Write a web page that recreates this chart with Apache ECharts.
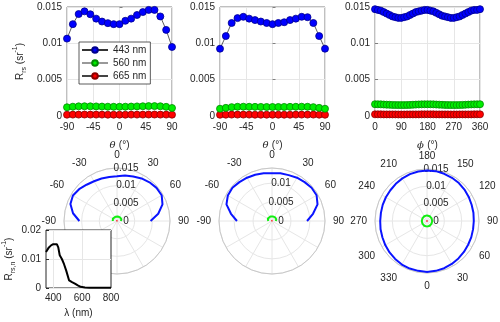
<!DOCTYPE html>
<html>
<head>
<meta charset="utf-8">
<script src="https://cdn.jsdelivr.net/npm/echarts@6/dist/echarts.min.js"></script>
<style>
  html,body{margin:0;padding:0;background:#fff}
  #chart{width:500px;height:322px}
</style>
</head>
<body>
<div id="chart"></div>
<script>
// viewing angles
var thetaDeg = [-90,-80,-70,-60,-50,-40,-30,-20,-10,0,10,20,30,40,50,60,70,80,90];
var phiDeg = [0,10,20,30,40,50,60,70,80,90,100,110,120,130,140,150,160,170,180,
              190,200,210,220,230,240,250,260,270,280,290,300,310,320,330,340,350,360];

// panel 1 (theta scan, plane 1)
var p1_443 = [0.01065,0.01264,0.01403,0.0144,0.0140,0.0134,0.0130,0.01278,0.01264,0.01264,0.0131,0.0134,0.0139,0.0143,0.0146,0.0146,0.0137,0.01185,0.0095];
var p1_560 = [0.00120,0.00128,0.00133,0.00134,0.00133,0.00132,0.00130,0.00128,0.00127,0.00127,0.00128,0.00130,0.00132,0.00134,0.00136,0.00136,0.00134,0.00126,0.00110];
var p1_665 = [0.00018,0.00019,0.00019,0.00020,0.00019,0.00019,0.00019,0.00018,0.00018,0.00018,0.00018,0.00019,0.00019,0.00019,0.00020,0.00020,0.00019,0.00019,0.00018];

// panel 2 (theta scan, plane 2)
var p2_443 = [0.00926,0.0110,0.0128,0.01347,0.01365,0.0134,0.0132,0.0130,0.0128,0.01264,0.0128,0.0129,0.0132,0.0134,0.01365,0.0136,0.0128,0.0110,0.00926];
var p2_560 = [0.00100,0.00112,0.00122,0.00127,0.00128,0.00127,0.00126,0.00125,0.00124,0.00124,0.00124,0.00125,0.00126,0.00127,0.00128,0.00127,0.00122,0.00112,0.00100];
var p2_665 = [0.00017,0.00018,0.00019,0.00019,0.00019,0.00019,0.00018,0.00018,0.00018,0.00018,0.00018,0.00018,0.00018,0.00019,0.00019,0.00019,0.00019,0.00018,0.00017];

// panel 3 (phi scan)
var p3_443 = [0.0147,0.0146,0.0145,0.0143,0.0141,0.0139,0.0137,0.0136,0.0135,0.0135,0.0136,0.0137,0.0139,0.0141,0.0143,0.0144,0.0145,0.0146,0.0146,
              0.0145,0.0144,0.0142,0.0140,0.0138,0.0137,0.0136,0.0135,0.0135,0.0136,0.0137,0.0139,0.0141,0.0143,0.0145,0.0146,0.0146,0.0147];
var p3_560 = [0.00162,0.00161,0.00160,0.00158,0.00156,0.00154,0.00152,0.00151,0.00150,0.00150,0.00150,0.00151,0.00153,0.00155,0.00157,0.00159,0.00160,0.00161,0.00161,
              0.00161,0.00160,0.00158,0.00156,0.00154,0.00152,0.00151,0.00150,0.00150,0.00150,0.00151,0.00153,0.00155,0.00157,0.00159,0.00160,0.00161,0.00162];
var p3_665 = [0.00023,0.00023,0.00023,0.00022,0.00022,0.00022,0.00022,0.00022,0.00021,0.00021,0.00021,0.00022,0.00022,0.00022,0.00022,0.00022,0.00023,0.00023,0.00023,
              0.00023,0.00023,0.00022,0.00022,0.00022,0.00022,0.00022,0.00021,0.00021,0.00021,0.00022,0.00022,0.00022,0.00022,0.00022,0.00023,0.00023,0.00023];

// inset spectrum
var wavelength = [350,370,385,400,410,425,435,445,460,475,490,510,530,550,570,590,620,650,700,750,800];
var rrsn       = [0.0124,0.0140,0.0147,0.0151,0.0153,0.0151,0.0140,0.0113,0.0100,0.0082,0.0060,0.0026,0.0020,0.0015,0.0009,0.0004,0.0002,0.0001,0.0001,0.0001,0.0001];

var bandNames = ['443 nm','560 nm','665 nm'];
var markFill  = ['#0000ff','#00ee00','#ff0000'];
var markEdge  = ['#00008c','#008a00','#8c0000'];
var joinColor = ['#333333','#999999','#444444'];
var polarLine = ['#0a14ff','#11ee11','#ff1010'];

var FONT = 'Liberation Sans, Arial, Helvetica, sans-serif';
var TXT = '#262626';
var GRIDC = '#e6e6e6';

var chart = echarts.init(document.getElementById('chart'), null, {renderer:'canvas'});

function zip(a, b){ return a.map(function(v,i){ return [v, b[i]]; }); }

// polar data is [radius, angle]
function polarData(ang, r, wrap){ return ang.map(function(a,i){ return [r[i], wrap(a)]; }); }

var richName = {
  n:{fontSize:10, color:TXT, fontFamily:FONT, lineHeight:16, verticalAlign:'middle'},
  s:{fontSize:7, color:TXT, fontFamily:FONT, lineHeight:16, verticalAlign:'bottom'},
  p:{fontSize:7, color:TXT, fontFamily:FONT, lineHeight:16, verticalAlign:'top'},
  i:{fontSize:10, color:TXT, fontFamily:'DejaVu Serif, serif', fontStyle:'italic', lineHeight:16}
};

var lefts = [67, 220, 375];
var grids = lefts.map(function(l){
  return {left:l, top:7, width:105, height:109, show:true, borderColor:'#808080', borderWidth:1, backgroundColor:'#fff'};
});
grids.push({left:45, top:230, width:66, height:58, show:true, borderColor:'#262626', borderWidth:1, backgroundColor:'#fff', z:5});

function topX(i, min, max, interval, name){
  return {
    type:'value', gridIndex:i, min:min, max:max, interval:interval,
    axisLine:{show:false},
    axisTick:{show:true, inside:true, length:3, lineStyle:{color:'#808080'}},
    axisLabel:{color:TXT, fontSize:10, fontFamily:FONT, margin:6},
    splitLine:{show:true, lineStyle:{color:GRIDC, width:1}},
    name:name, nameLocation:'middle', nameGap:21,
    nameTextStyle:{rich:richName}
  };
}
function topY(i, withName){
  var ax = {
    type:'value', gridIndex:i, min:0, max:0.015, interval:0.005,
    axisLine:{show:false},
    axisTick:{show:true, inside:true, length:3, lineStyle:{color:'#808080'}},
    axisLabel:{color:TXT, fontSize:10, fontFamily:FONT, margin:5},
    splitLine:{show:true, lineStyle:{color:GRIDC, width:1}}
  };
  if(withName){
    ax.name = '{n|R}{s|rs}{n| (sr}{p|-1}{n|)}';
    ax.nameLocation = 'middle';
    ax.nameRotate = 90;
    ax.nameGap = 39;
    ax.nameTextStyle = {rich:richName};
  }
  return ax;
}

var xAxes = [
  topX(0, -90, 90, 45, '{i|θ} {n|(°)}'),
  topX(1, -90, 90, 45, '{i|θ} {n|(°)}'),
  topX(2, 0, 360, 90, '{i|ϕ} {n|(°)}'),
  {
    type:'value', gridIndex:3, min:350, max:800, interval:50, z:6,
    axisLine:{show:false},
    axisTick:{show:false},
    axisLabel:{color:TXT, fontSize:10, fontFamily:FONT, margin:5,
      formatter:function(v){ return v % 200 === 0 ? String(v) : ''; }},
    splitLine:{show:false},
    name:'{n|λ (nm)}', nameLocation:'middle', nameGap:17,
    nameTextStyle:{rich:richName}
  }
];
var yAxes = [
  topY(0, true), topY(1, false), topY(2, false),
  {
    type:'value', gridIndex:3, min:0, max:0.02, interval:0.01, z:6,
    axisLine:{show:false},
    axisTick:{show:true, inside:true, length:3, lineStyle:{color:'#262626'}},
    axisLabel:{color:TXT, fontSize:10, fontFamily:FONT, margin:5},
    splitLine:{show:true, lineStyle:{color:GRIDC}},
    name:'{n|R}{s|rs,n}{n| (sr}{p|-1}{n|)}', nameLocation:'middle', nameRotate:90, nameGap:29,
    nameTextStyle:{rich:richName}
  }
];

// polar panels
var polars = [
  {center:[117,221], radius:53},
  {center:[272,221], radius:53},
  {center:[427,221], radius:52}
];
function thetaLabel(v){
  if(v <= 90) return String(v);
  if(v >= 270 && v < 360) return String(v - 360);
  return '';
}
function phiLabel(v){
  if(v === 180) return '';
  return String(v < 0 ? v + 360 : v);
}
function angAx(i, min, max, start, cw, fmt){
  return {
    polarIndex:i, type:'value', min:min, max:max, interval:30, startAngle:start, clockwise:cw,
    axisLine:{show:true, lineStyle:{color:'#c8c8c8', width:1}},
    axisTick:{show:false},
    axisLabel:{color:TXT, fontSize:10, fontFamily:FONT, margin:8, formatter:fmt},
    splitLine:{show:true, lineStyle:{color:GRIDC, width:1}}
  };
}
function radAx(i, max, showMax){
  return {
    polarIndex:i, type:'value', min:0, max:max, interval:0.005,
    axisLine:{show:false}, axisTick:{show:false},
    axisLabel:{color:TXT, fontSize:10, fontFamily:FONT, margin:-9, align:'center', showMaxLabel:showMax, hideOverlap:false},
    splitLine:{show:true, lineStyle:{color:GRIDC, width:1}}
  };
}
var angleAxes = [
  angAx(0, 0, 360, 90, true, thetaLabel),
  angAx(1, 0, 360, 90, true, thetaLabel),
  angAx(2, -180, 180, 90, false, phiLabel)
];
var radiusAxes = [radAx(0, 0.015, true), radAx(1, 0.014, false), radAx(2, 0.015, true)];

function wrapTheta(a){ return a < 0 ? a + 360 : a; }
function wrapPhi(a){ return a > 180 ? a - 360 : a; }

var panels = [
  {x:thetaDeg, vals:[p1_443,p1_560,p1_665], wrap:wrapTheta},
  {x:thetaDeg, vals:[p2_443,p2_560,p2_665], wrap:wrapTheta},
  {x:phiDeg,   vals:[p3_443,p3_560,p3_665], wrap:wrapPhi}
];

var series = [];
panels.forEach(function(pn, pi){
  pn.vals.forEach(function(v, bi){
    series.push({
      name:bandNames[bi], type:'line', xAxisIndex:pi, yAxisIndex:pi,
      data:zip(pn.x, v), symbol:'circle', symbolSize:7, z:3 - bi * 0.1,
      itemStyle:{color:markFill[bi], borderColor:markEdge[bi], borderWidth:0.8},
      lineStyle:{color:joinColor[bi], width:0.8},
      animation:false
    });
  });
});
panels.forEach(function(pn, pi){
  pn.vals.forEach(function(v, bi){
    series.push({
      name:bandNames[bi], type:'line', coordinateSystem:'polar', polarIndex:pi,
      data:polarData(pn.x, v, pn.wrap), symbol:'none', z:2,
      lineStyle:{color:polarLine[bi], width: bi === 2 ? 1.5 : 2},
      animation:false
    });
  });
});
series.push({
  type:'line', xAxisIndex:3, yAxisIndex:3, data:zip(wavelength, rrsn), symbol:'none', z:7,
  lineStyle:{color:'#000', width:2}, animation:false,
  markLine:{silent:true, symbol:'none', label:{show:false}, z:6,
    lineStyle:{color:GRIDC, width:1, type:'solid'},
    data:[{xAxis:400},{xAxis:600}]}
});

chart.setOption({
  animation:false,
  backgroundColor:'#fff',
  textStyle:{fontFamily:FONT},
  grid:grids,
  xAxis:xAxes,
  yAxis:yAxes,
  polar:polars,
  angleAxis:angleAxes,
  radiusAxis:radiusAxes,
  legend:{
    data:bandNames, orient:'vertical', left:79, top:42,
    itemWidth:26, itemHeight:7, itemGap:3,
    padding:[3,4,3,2],
    borderColor:'#333', borderWidth:0.8, backgroundColor:'#fff',
    textStyle:{color:TXT, fontSize:10, fontFamily:FONT},
    selectedMode:false
  },
  series:series
});
</script>
</body>
</html>
